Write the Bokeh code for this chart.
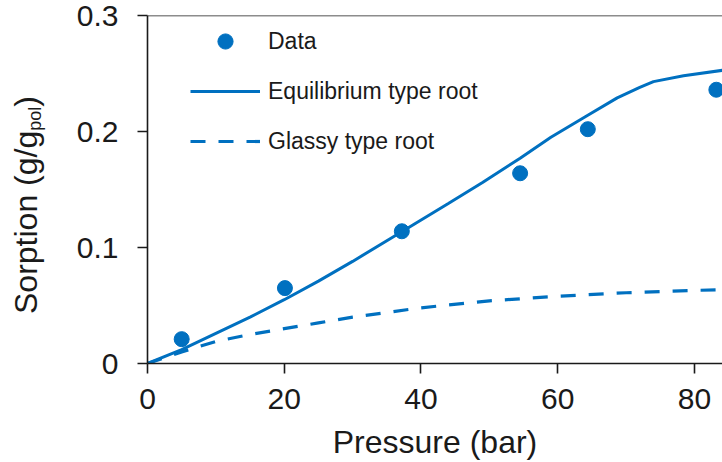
from math import pi
from bokeh.plotting import figure
from bokeh.layouts import row
from bokeh.core.properties import value
from bokeh.models import Legend, LegendItem, Span, FixedTicker, Range1d
from bokeh.embed import file_html
from bokeh.resources import INLINE

# ---- data ----
data_pressure = [5.0, 20.1, 37.2, 54.5, 64.4, 83.2]
data_sorption = [0.021, 0.065, 0.114, 0.164, 0.202, 0.236]

equil_pressure = [0, 5, 10, 15, 20, 25, 30, 37, 44, 49, 54.5, 59, 64.4, 68.7, 72, 74, 78.4, 85]
equil_sorption = [0, 0.012, 0.026, 0.040, 0.055, 0.071, 0.088, 0.113, 0.138, 0.156,
                  0.177, 0.195, 0.214, 0.229, 0.238, 0.243, 0.248, 0.2535]

glassy_pressure = [0, 5, 10, 15, 20, 25, 30, 40, 50, 60, 70, 80, 85]
glassy_sorption = [0, 0.010, 0.019, 0.025, 0.030, 0.035, 0.040, 0.048, 0.054, 0.058,
                   0.061, 0.063, 0.0637]

x_ticks = [0, 20, 40, 60, 80]
y_ticks = [0, 0.1, 0.2, 0.3]
y_tick_labels = ["0", "0.1", "0.2", "0.3"]

legend_labels = ["Data", "Equilibrium type root", "Glassy type root"]
x_title = "Pressure (bar)"
y_title_parts = ["Sorption (g/g", "pol", ")"]

BLUE = "#0070C0"
INK = "#1a1a1a"
FONT = "Liberation Sans"

W, H = 722, 462
LAB_W = 60
TOP, BOTTOM = 15, 98

# ---- main plot ----
p = figure(width=W - LAB_W, height=H, output_backend="svg", toolbar_location=None,
           x_range=Range1d(0, 84.1), y_range=Range1d(0, 0.3),
           min_border_left=147 - LAB_W, min_border_right=0, min_border_top=TOP,
           min_border_bottom=BOTTOM)
p.outline_line_color = None
p.xgrid.visible = False
p.ygrid.visible = False
p.background_fill_color = "white"
p.border_fill_color = "white"

r_eq = p.line(equil_pressure, equil_sorption, line_color=BLUE, line_width=3)
r_gl = p.line(glassy_pressure, glassy_sorption, line_color=BLUE, line_width=3.2,
              line_dash="15 13")
r_pts = p.scatter(data_pressure, data_sorption, size=15, fill_color=BLUE, line_color=BLUE)

for ax in (p.xaxis[0], p.yaxis[0]):
    ax.axis_line_color = INK
    ax.axis_line_width = 1.6
    ax.major_tick_line_color = INK
    ax.major_tick_line_width = 1.6
    ax.major_tick_out = 10
    ax.major_tick_in = 0
    ax.minor_tick_line_color = None
    ax.major_label_text_font = FONT
    ax.major_label_text_font_size = "30px"
    ax.major_label_text_color = INK

p.xaxis[0].ticker = FixedTicker(ticks=x_ticks)
p.xaxis[0].major_label_standoff = 15
p.xaxis[0].axis_label = x_title
p.xaxis[0].axis_label_text_font = FONT
p.xaxis[0].axis_label_text_font_size = "32px"
p.xaxis[0].axis_label_text_font_style = "normal"
p.xaxis[0].axis_label_text_color = INK
p.xaxis[0].axis_label_standoff = 12

p.yaxis[0].ticker = FixedTicker(ticks=y_ticks)
p.yaxis[0].major_label_overrides = {t: s for t, s in zip(y_ticks, y_tick_labels)}
p.yaxis[0].major_label_standoff = 19

p.add_layout(Span(location=0.3, dimension="width", line_color=INK, line_width=1.6))

legend = Legend(items=[LegendItem(label=legend_labels[0], renderers=[r_pts]),
                       LegendItem(label=legend_labels[1], renderers=[r_eq]),
                       LegendItem(label=legend_labels[2], renderers=[r_gl])],
                location=(43, 203), orientation="vertical",
                glyph_width=70, glyph_height=38, label_height=38, spacing=12,
                padding=13, margin=0, label_standoff=8,
                label_text_font=FONT, label_text_font_size="23px", label_text_color=INK,
                border_line_color=None, background_fill_alpha=0)
p.add_layout(legend)

# ---- strip on the left holding the rotated y title (with subscript) ----
lab = figure(width=LAB_W, height=H, output_backend="svg", toolbar_location=None,
             x_range=Range1d(0, 1), y_range=Range1d(0, 1),
             x_axis_type=None, y_axis_type=None,
             min_border_left=0, min_border_right=0, min_border_top=TOP,
             min_border_bottom=BOTTOM)
lab.outline_line_color = None
lab.xgrid.visible = False
lab.ygrid.visible = False
lab.border_fill_color = "white"
lab.background_fill_color = "white"

main_size, sub_size = 32, 18
main_len = 5.725 * main_size             # advance width of "Sorption (g/g" (Arial metrics)
sub_len = 1.334 * sub_size               # advance width of "pol"
# all pieces hang from one anchor, laid out with pixel offsets
anchor_x, anchor_y = 0.0, 0.5
dx0 = 36.7 - 0.347 * main_size           # main baseline at x = 36.7 px
dx1 = 40.7 - 0.347 * sub_size            # subscript baseline at x = 40.7 px
frame_mid = (TOP + (H - BOTTOM)) / 2
start = 314 - frame_mid                  # lower end of the title (page y 314)
tk = dict(angle=pi / 2, text_align="left", text_baseline="middle",
          text_font=value(FONT), text_color=INK)
lab.text(x=[anchor_x], y=[anchor_y], text=[y_title_parts[0]], x_offset=dx0,
         y_offset=start, text_font_size=value(f"{main_size}px"), **tk)
lab.text(x=[anchor_x], y=[anchor_y], text=[y_title_parts[1]], x_offset=dx1,
         y_offset=start - main_len, text_font_size=value(f"{sub_size}px"), **tk)
lab.text(x=[anchor_x], y=[anchor_y], text=[y_title_parts[2]], x_offset=dx0,
         y_offset=start - main_len - sub_len,
         text_font_size=value(f"{main_size}px"), **tk)

layout = row(lab, p)
open("out.html", "w").write(file_html(layout, INLINE))
